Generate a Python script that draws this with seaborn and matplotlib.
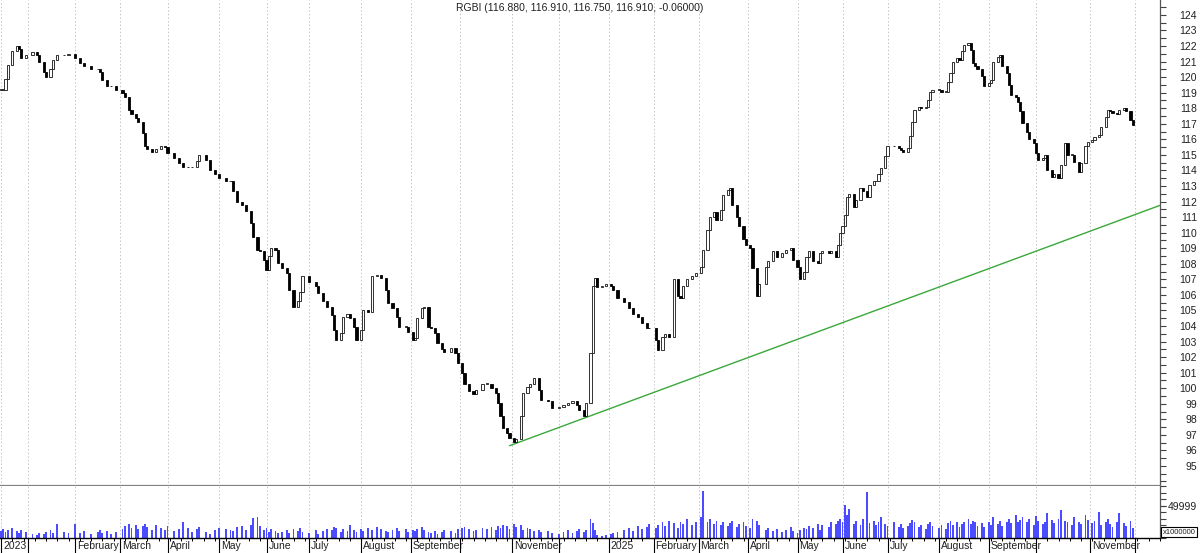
import matplotlib
matplotlib.use("Agg")
import matplotlib.pyplot as plt
import matplotlib.transforms as mtransforms
from matplotlib.ticker import FixedLocator, MultipleLocator
import numpy as np
import pandas as pd
import seaborn as sns

# ---------------- data ----------------
title_text = "RGBI (116.880, 116.910, 116.750, 116.910, -0.06000)"

sessions = [
    0, 1, 2, 3, 5, 7, 8, 9, 11, 14,
    16, 17, 19, 20, 22, 23, 25, 28, 30, 33,
    35, 37, 40, 43, 44, 45, 47, 49, 51, 54,
    55, 57, 58, 60, 61, 63, 64, 65, 67, 69,
    71, 73, 74, 77, 79, 81, 83, 85, 87, 88,
    91, 93, 95, 97, 100, 102, 103, 105, 107, 109,
    111, 112, 114, 115, 117, 118, 119, 120, 122, 123,
    125, 127, 128, 130, 132, 133, 134, 137, 140, 141,
    143, 145, 147, 148, 149, 151, 152, 154, 155, 157,
    158, 160, 161, 163, 165, 167, 169, 171, 172, 174,
    176, 177, 180, 181, 183, 184, 185, 187, 188, 190,
    191, 193, 194, 196, 197, 200, 202, 203, 205, 206,
    208, 210, 211, 214, 216, 218, 220, 221, 222, 223,
    225, 226, 228, 229, 231, 232, 234, 235, 237, 239,
    240, 243, 245, 248, 250, 252, 254, 256, 257, 259,
    260, 262, 263, 264, 265, 267, 269, 271, 272, 274,
    277, 279, 281, 283, 285, 287, 288, 291, 292, 294,
    295, 297, 299, 301, 302, 303, 305, 307, 309, 311,
    312, 314, 315, 317, 318, 320, 321, 323, 324, 325,
    327, 328, 330, 331, 333, 334, 336, 337, 340, 341,
    343, 345, 347, 349, 351, 352, 354, 355, 357, 358,
    359, 361, 363, 364, 365, 368, 369, 371, 372, 373,
    374, 375, 376, 377, 379, 380, 382, 383, 385, 386,
    388, 389, 390, 391, 393, 394, 397, 399, 400, 401,
    403, 404, 405, 406, 408, 409, 411, 412, 413, 414,
    417, 418, 420, 421, 422, 423, 425, 426, 427, 428,
    430, 431, 432, 433, 434, 436, 437, 439, 440, 441,
    443, 444, 445, 447, 448, 449, 451, 452, 453, 454,
    456, 457, 459, 460, 461, 463, 464, 465, 467, 468,
    470, 471, 473, 474, 476, 477, 479, 480, 482, 483,
    485, 486, 488, 489, 491, 492, 493, 494, 496, 497,
    499, 500, 502, 503,
]

closes = [
    119.2, 119.2, 119.9, 120.8, 121.7, 122.0, 121.8, 121.2, 121.4, 121.6,
    121.4, 121.0, 120.3, 120.0, 120.5, 121.1, 121.4, 121.45, 121.5, 121.2,
    120.9, 120.7, 120.5, 120.5, 120.3, 119.8, 119.4, 119.4, 119.2, 119.0,
    118.7, 117.9, 117.6, 117.4, 117.1, 116.4, 115.6, 115.4, 115.2, 115.4,
    115.6, 115.5, 115.1, 114.8, 114.5, 114.25, 114.2, 114.25, 114.6, 115.0,
    114.7, 114.0, 113.8, 113.5, 113.3, 113.3, 112.7, 112.0, 111.8, 111.4,
    110.6, 109.7, 108.9, 108.8, 108.25, 107.6, 108.5, 109.0, 108.9, 108.05,
    107.7, 107.4, 106.3, 105.25, 105.6, 106.2, 107.2, 106.8, 106.6, 106.1,
    105.6, 105.2, 104.7, 103.75, 103.1, 103.55, 104.6, 104.8, 104.5, 103.95,
    103.1, 103.75, 105.0, 104.9, 107.2, 107.3, 107.1, 106.3, 105.5, 105.15,
    104.6, 103.95, 103.95, 103.6, 103.1, 103.2, 104.5, 105.15, 105.25, 103.95,
    103.85, 103.55, 102.9, 102.5, 102.35, 102.6, 102.25, 101.6, 100.95, 100.3,
    99.8, 99.6, 99.9, 100.3, 100.3, 100.0, 99.7, 99.05, 98.2, 97.45,
    97.1, 96.8, 96.55, 96.7, 98.2, 99.7, 100.1, 100.3, 100.65, 99.9,
    99.25, 99.15, 98.75, 98.8, 98.9, 99.05, 99.15, 98.9, 98.6, 98.2,
    99.05, 102.25, 106.6, 107.1, 106.5, 106.6, 106.7, 106.6, 106.3, 105.8,
    105.55, 105.15, 104.8, 104.6, 104.2, 103.85, 103.85, 103.1, 102.45, 103.3,
    103.5, 103.3, 107.05, 105.9, 105.8, 106.55, 107.0, 107.2, 107.4, 107.8,
    108.9, 110.2, 111.0, 111.35, 110.8, 111.45, 112.4, 112.75, 112.85, 111.8,
    111.0, 110.4, 109.6, 109.2, 109.0, 107.7, 105.9, 106.7, 107.8, 108.15,
    108.8, 108.45, 108.7, 108.9, 109.0, 108.25, 107.8, 107.05, 107.5, 108.45,
    108.8, 108.15, 108.05, 108.7, 108.8, 108.7, 108.8, 108.45, 109.2, 109.95,
    110.4, 111.15, 112.3, 112.5, 111.65, 112.1, 112.85, 112.65, 112.3, 113.05,
    113.3, 113.3, 113.8, 114.15, 114.9, 115.55, 115.55, 115.45, 115.3, 115.2,
    115.45, 116.2, 117.1, 117.9, 118.1, 118.0, 118.1, 118.5, 119.05, 119.2,
    119.2, 119.05, 119.05, 119.7, 120.25, 121.0, 121.2, 121.1, 121.65, 122.05,
    122.2, 121.75, 120.9, 120.7, 120.5, 120.05, 119.4, 119.6, 119.8, 121.0,
    121.3, 121.4, 120.7, 120.25, 119.5, 118.85, 118.75, 118.4, 117.8, 117.05,
    116.5, 116.05, 115.75, 115.1, 114.7, 114.8, 115.0, 114.05, 113.6, 113.8,
    113.5, 114.35, 115.75, 115.0, 115.0, 114.55, 113.9, 114.45, 115.6, 115.85,
    115.95, 116.15, 116.25, 116.8, 117.45, 117.9, 117.8, 117.7, 117.6, 117.9,
    118.0, 117.8, 117.25, 116.9,
]

# turnover, in units of 1 000 000
volumes = [
    10500, 13500, 9000, 12000, 15000, 10500, 7500, 12000, 9000, 6000,
    4500, 7500, 6000, 9000, 12000, 7500, 21000, 9000, 7500, 21000,
    7500, 10500, 6000, 9000, 12000, 7500, 10500, 6000, 9000, 13500,
    18000, 21000, 15000, 19500, 13500, 18000, 21000, 16500, 12000, 19500,
    15000, 12000, 18000, 10500, 13500, 25500, 15000, 9000, 13500, 16500,
    9000, 6000, 12000, 15000, 13500, 12000, 10500, 16500, 18000, 12000,
    19500, 31500, 33000, 18000, 12000, 15000, 9000, 13500, 10500, 7500,
    9000, 12000, 7500, 13500, 10500, 15000, 9000, 7500, 12000, 6000,
    10500, 13500, 12000, 16500, 15000, 9000, 13500, 10500, 19500, 12000,
    9000, 13500, 10500, 15000, 12000, 16500, 13500, 10500, 9000, 12000,
    15000, 10500, 13500, 9000, 12000, 10500, 13500, 16500, 12000, 9000,
    7500, 10500, 6000, 9000, 12000, 10500, 7500, 13500, 15000, 16500,
    13500, 10500, 12000, 15000, 13500, 16500, 12000, 18000, 15000, 19500,
    18000, 13500, 21000, 16500, 19500, 12000, 15000, 13500, 10500, 12000,
    9000, 10500, 7500, 6000, 9000, 12000, 7500, 10500, 13500, 9000,
    12000, 30000, 22500, 12000, 4500, 3000, 4500, 6000, 7500, 9000,
    12000, 15000, 10500, 18000, 13500, 16500, 21000, 15000, 19500, 24000,
    18000, 27000, 22500, 15000, 24000, 21000, 30000, 19500, 25500, 33000,
    73500, 24000, 30000, 21000, 27000, 19500, 25500, 18000, 22500, 27000,
    16500, 21000, 25500, 18000, 15000, 30000, 27000, 19500, 12000, 15000,
    10500, 13500, 9000, 12000, 16500, 10500, 7500, 12000, 15000, 13500,
    18000, 15000, 21000, 12000, 19500, 16500, 24000, 21000, 27000, 30000,
    24000, 51000, 36000, 45000, 21000, 27000, 19500, 30000, 70500, 22500,
    27000, 19500, 24000, 33000, 21000, 18000, 25500, 16500, 21000, 15000,
    18000, 22500, 28500, 24000, 16500, 19500, 13500, 21000, 25500, 18000,
    15000, 19500, 13500, 22500, 27000, 19500, 25500, 16500, 21000, 24000,
    30000, 21000, 27000, 24000, 18000, 22500, 16500, 25500, 19500, 33000,
    21000, 27000, 18000, 24000, 30000, 22500, 36000, 25500, 28500, 33000,
    24000, 30000, 19500, 34500, 27000, 21000, 25500, 39000, 28500, 22500,
    30000, 43500, 27000, 24000, 19500, 33000, 25500, 21000, 36000, 28500,
    22500, 27000, 40500, 19500, 25500, 30000, 21000, 16500, 24000, 39000,
    22500, 18000, 27000, 15000,
]

month_sessions = [0, 12, 33, 53, 74, 97, 118, 137, 160, 182, 204, 227, 248,
                  270, 290, 310, 332, 354, 374, 394, 417, 439, 460, 484, 504]
month_labels = ["2023", "", "February", "March", "April", "May", "June", "July",
                "August", "September", "", "November", "", "2025", "February",
                "March", "April", "May", "June", "July", "August", "September",
                "", "November", ""]

trend_sessions = [226, 515]
trend_values = [96.3, 111.75]

price_ticks = list(range(95, 125))
volume_tick = [49999]
volume_unit = "x1000000"

# ---------------- figure ----------------
sns.set_theme(style="white")
plt.rcParams['font.family'] = ['Liberation Sans', 'DejaVu Sans']

W, H = 1200, 553
fig = plt.figure(figsize=(W / 100, H / 100), dpi=100)
fig.patch.set_facecolor("white")
ax = fig.add_axes([0, 1 - 486 / H, 1160 / W, 486 / H])
axv = fig.add_axes([0, 1 - 538 / H, 1160 / W, 52 / H], sharex=ax)

df = pd.DataFrame({"session": sessions, "close": closes, "volume": volumes})
df["open"] = df["close"].shift(1).fillna(df["close"])
df["low"] = np.minimum(df["open"], df["close"])
df["body"] = np.maximum((df["close"] - df["open"]).abs(), 0.05)
up = df["close"] >= df["open"]

ax.bar(df.loc[up, "session"], df.loc[up, "body"], bottom=df.loc[up, "low"],
       width=1.0, color="white", edgecolor="#111111", linewidth=0.6, zorder=3)
ax.bar(df.loc[~up, "session"], df.loc[~up, "body"], bottom=df.loc[~up, "low"],
       width=1.0, color="black", edgecolor="black", linewidth=0.6, zorder=3)

sns.lineplot(x=trend_sessions, y=trend_values, ax=ax, color="#3aa83a",
             linewidth=1.0, zorder=2)

axv.bar(df["session"], df["volume"], width=0.7, color="#4b4bff", linewidth=0)

# axes limits
ax.set_xlim(-0.45, 515.1)
ax.set_ylim(93.71, 124.96)
axv.set_ylim(0, 80500)

# grid
for a in (ax, axv):
    a.set_facecolor("white")
    a.xaxis.set_major_locator(FixedLocator(month_sessions))
    a.grid(True, axis="x", color="#c4c4c4", linewidth=0.7, linestyle=(0, (1.5, 2.2)))
    a.grid(False, axis="y")
    a.spines["top"].set_visible(False)
    a.spines["left"].set_visible(False)
    a.spines["right"].set_color("#555555")
    a.spines["right"].set_linewidth(0.9)

ax.spines["bottom"].set_color("#808080")
ax.spines["bottom"].set_linewidth(1.6)
axv.spines["bottom"].set_color("black")
axv.spines["bottom"].set_linewidth(1.0)

# price axis
ax.yaxis.tick_right()
ax.set_yticks(price_ticks)
ax.set_yticklabels([str(v) for v in price_ticks])
ax.yaxis.set_minor_locator(MultipleLocator(0.5))
ax.tick_params(axis="y", which="both", right=True, left=False, direction="out",
               length=4, width=0.8, color="#404040", labelsize=7.5, pad=22.6,
               labelcolor="#202020")
for lbl in ax.get_yticklabels():
    lbl.set_horizontalalignment("right")
ax.tick_params(axis="x", which="both", bottom=False, top=False, labelbottom=False)

# volume axis
axv.yaxis.tick_right()
axv.set_yticks(volume_tick)
axv.set_yticklabels([str(v) for v in volume_tick])
axv.yaxis.set_minor_locator(MultipleLocator(10000))
axv.tick_params(axis="y", which="both", right=True, left=False, direction="out",
                length=4, width=0.8, color="#404040", labelsize=7.5, pad=22.6,
                labelcolor="#202020")
for lbl in axv.get_yticklabels():
    lbl.set_horizontalalignment("right")

# date axis
axv.set_xticks(month_sessions)
axv.set_xticklabels(month_labels)
axv.xaxis.set_minor_locator(MultipleLocator(5))
axv.tick_params(axis="x", which="major", bottom=True, direction="out", length=11,
                width=0.8, color="black", labelsize=7.5, pad=-8.5, labelcolor="#202020")
axv.tick_params(axis="x", which="minor", bottom=True, direction="out", length=2.5,
                width=0.7, color="black")
shift = mtransforms.ScaledTranslation(2 / 100, 0, fig.dpi_scale_trans)
for lbl in axv.get_xticklabels():
    lbl.set_horizontalalignment("left")
    lbl.set_transform(lbl.get_transform() + shift)

# texts
fig.text(580 / W, 1 - 8 / H, title_text, ha="center", va="center",
         fontsize=7.5, color="#202020")
fig.text(1179 / W, 1 - 532 / H, volume_unit, ha="center", va="center",
         fontsize=5.5, color="#202020",
         bbox=dict(boxstyle="square,pad=0.25", fc="white", ec="black", lw=0.8))

fig.savefig("out.png", dpi=100, facecolor="white")
